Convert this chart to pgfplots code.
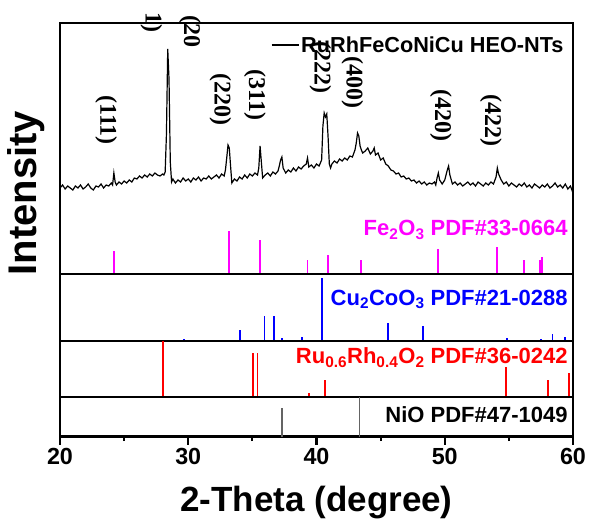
\documentclass[border=0pt]{standalone}
\usepackage{pgfplots}
\pgfplotsset{compat=1.18}
\usepackage{fontspec}
\setmainfont{Liberation Sans}
\newfontfamily\serifb{Liberation Serif}
\definecolor{mag}{RGB}{255,0,255}
\definecolor{blu}{RGB}{0,0,255}
\definecolor{rd}{RGB}{255,0,0}
\definecolor{gry}{RGB}{100,100,100}
\pgfplotsset{
 panel/.style={
  scale only axis, width=513pt, xmin=20, xmax=60, ymin=0,
  anchor=north west, ytick=\empty, xtick=\empty,
  axis line style={line width=2.4pt},
  clip mode=individual,
 },
}
\newcommand{\lab}{\fontsize{22}{26}\selectfont\bfseries}
\newcommand{\mil}{\serifb\fontsize{24}{28}\selectfont\bfseries}
\begin{document}
\begin{tikzpicture}[x=1pt,y=1pt]
\path (0,0) rectangle (590,-519);
% ---------- main panel ----------
\begin{axis}[panel, name=main, at={(60pt,-23pt)}, height=251pt, ymax=251,
  legend style={draw=none, fill=none, at={(axis description cs:0.405,0.912)}, anchor=west,
    font=\fontsize{21.7}{26}\selectfont\bfseries},
  legend image code/.code={\draw[#1] (0pt,0pt) -- (27pt,0pt);}]
\addplot[black, line width=1.2pt] coordinates {
(20.0,86)(20.2,89)(20.4,85)(20.6,88)(20.8,86)(21.0,84)(21.2,88)(21.4,86)(21.6,89)(21.8,85)
(22.0,87)(22.2,90)(22.4,86)(22.6,84)(22.8,88)(23.0,87)(23.2,90)(23.4,86)(23.6,89)(23.8,88)
(24.0,91)(24.1,89)(24.2,101)(24.3,92)(24.4,89)(24.6,92)(24.8,90)(25.0,93)(25.2,91)(25.4,94)
(25.6,92)(25.8,96)(26.0,95)(26.2,98)(26.4,96)(26.6,99)(26.8,97)(27.0,100)(27.2,98)(27.4,101)
(27.6,99)(27.8,98)(28.0,100)(28.1,99)(28.2,102)(28.3,140)(28.4,225)(28.5,195)(28.6,112)(28.7,92)
(28.8,95)(29.0,91)(29.2,94)(29.4,92)(29.6,96)(29.8,93)(30.0,95)(30.2,92)(30.4,96)(30.6,94)
(30.8,97)(31.0,93)(31.2,96)(31.4,95)(31.6,98)(31.8,95)(32.0,97)(32.2,99)(32.4,96)(32.6,100)
(32.8,98)(32.9,104)(33.0,116)(33.1,129)(33.2,126)(33.3,108)(33.4,91)(33.6,95)(33.8,93)(34.0,97)
(34.2,95)(34.4,99)(34.6,96)(34.8,100)(35.0,98)(35.2,101)(35.4,99)(35.5,106)(35.6,128)(35.7,112)
(35.8,96)(36.0,99)(36.2,101)(36.4,98)(36.6,102)(36.8,100)(37.0,103)(37.1,108)(37.2,114)(37.3,117)
(37.4,106)(37.6,101)(37.8,104)(38.0,102)(38.2,106)(38.4,103)(38.6,107)(38.8,105)(39.0,108)(39.2,110)
(39.3,116)(39.4,107)(39.6,109)(39.8,106)(40.0,110)(40.2,108)(40.4,114)(40.5,148)(40.6,161)(40.7,157)
(40.8,160)(40.9,138)(41.0,110)(41.1,106)(41.2,110)(41.4,113)(41.6,111)(41.8,115)(42.0,113)(42.2,116)
(42.4,114)(42.6,118)(42.8,117)(43.0,124)(43.1,131)(43.2,141)(43.3,138)(43.4,128)(43.5,124)(43.6,121)
(43.8,123)(44.0,126)(44.2,120)(44.4,123)(44.5,126)(44.6,119)(44.8,121)(45.0,114)(45.2,116)(45.4,110)
(45.6,108)(45.8,104)(46.0,103)(46.2,100)(46.4,101)(46.6,97)(46.8,98)(47.0,95)(47.2,96)(47.4,93)
(47.6,94)(47.8,91)(48.0,93)(48.2,90)(48.4,92)(48.6,89)(48.8,91)(49.0,90)(49.2,92)(49.3,89)
(49.4,96)(49.5,101)(49.6,94)(49.8,90)(50.0,94)(50.1,99)(50.2,104)(50.3,108)(50.4,99)(50.6,90)
(50.8,92)(51.0,89)(51.2,91)(51.4,88)(51.6,90)(51.8,92)(52.0,89)(52.2,91)(52.4,88)(52.6,92)
(52.8,90)(53.0,88)(53.2,91)(53.4,89)(53.6,92)(53.8,90)(54.0,97)(54.1,106)(54.2,100)(54.4,94)
(54.6,90)(54.8,92)(55.0,88)(55.2,91)(55.4,89)(55.6,87)(55.8,90)(56.0,88)(56.2,91)(56.4,87)
(56.6,89)(56.8,86)(57.0,90)(57.2,88)(57.4,86)(57.6,89)(57.8,87)(58.0,90)(58.2,86)(58.4,88)
(58.6,91)(58.8,87)(59.0,89)(59.2,86)(59.4,90)(59.6,85)(59.8,88)(60.0,81)
};
\addlegendentry{RuRhFeCoNiCu HEO-NTs}
\addplot[mag, ycomb, line width=1.8pt, forget plot] coordinates {
(24.2,22.7)(33.2,42.7)(35.6,33.7)(39.3,14.3)(40.9,19.3)(43.5,14.3)(49.5,25.3)(54.1,26.7)(56.2,13.7)(57.4,14.3)(57.6,16.7)};
\node[mag, anchor=base east, inner sep=0pt] at (axis cs:59.6,38.3) {\lab Fe\textsubscript{2}O\textsubscript{3} PDF\#33-0664};
\node[rotate=-90, inner sep=0pt] at (axis cs:23.6,154) {\mil (111)};
\node[rotate=-90, inner sep=0pt] at (axis cs:32.5,175) {\mil (220)};
\node[rotate=-90, inner sep=0pt] at (axis cs:35.2,179) {\mil (311)};
\node[rotate=-90, inner sep=0pt] at (axis cs:40.3,206.5) {\mil (222)};
\node[rotate=-90, inner sep=0pt] at (axis cs:42.8,192) {\mil (400)};
\node[rotate=-90, inner sep=0pt] at (axis cs:49.7,159) {\mil (420)};
\node[rotate=-90, inner sep=0pt] at (axis cs:53.6,154) {\mil (422)};
\node[rotate=-90, inner sep=0pt, anchor=west] at (axis cs:30.13,259) {\mil (20};
\node[rotate=-90, inner sep=0pt, anchor=east] at (axis cs:27.13,241) {\mil 1)};
\end{axis}
% ---------- Cu2CoO3 ----------
\begin{axis}[panel, at={(60pt,-274pt)}, height=67pt, ymax=67]
\addplot[blu, ycomb, line width=1.8pt] coordinates {
(24.2,1)(29.65,2.3)(34.05,10.7)(35.95,24.7)(36.7,24.7)(37.3,3.3)(38.85,4.3)(40.4,62.7)(45.6,18)(48.3,15)(54.85,3.3)(57.5,2.3)(58.4,6.7)(59.35,4.3)};
\node[blu, anchor=base east, inner sep=0pt] at (axis cs:59.6,36) {\lab Cu\textsubscript{2}CoO\textsubscript{3} PDF\#21-0288};
\end{axis}
% ---------- Ru0.6Rh0.4O2 ----------
\begin{axis}[panel, at={(60pt,-341pt)}, height=56pt, ymax=56]
\addplot[rd, ycomb, line width=1.8pt] coordinates {
(28.05,56)(35.05,44)(35.4,44)(39.4,4.2)(40.65,17)(54.8,30)(58.05,17)(59.7,24)};
\node[rd, anchor=base east, inner sep=0pt] at (axis cs:59.6,33.5) {\lab Ru\textsubscript{0.6}Rh\textsubscript{0.4}O\textsubscript{2} PDF\#36-0242};
\end{axis}
% ---------- NiO ----------
\begin{axis}[panel, at={(60pt,-397pt)}, height=39.5pt, ymax=39.5,
  xtick={20,30,40,50,60}, minor xtick={25,35,45,55},
  xtick pos=lower, tick align=outside,
  major tick length=8pt, minor tick length=4.5pt,
  major tick style={line width=2.2pt, black}, minor tick style={line width=2.2pt, black},
  /pgf/number format/assume math mode=true,
  xticklabel style={font=\fontsize{23.3}{28}\selectfont\bfseries}]
\addplot[gry, ycomb, line width=1.8pt] coordinates {(37.28,28.5)(43.35,39.5)};
\node[black, anchor=base east, inner sep=0pt] at (axis cs:59.6,14.5) {\lab NiO PDF\#47-1049};
\end{axis}
\draw[line width=2.4pt, line cap=rect] (main.north west) -- (main.north east);
\node[anchor=base, inner sep=0pt] at (316.5,-511.7) {\fontsize{35}{40}\selectfont\bfseries 2-Theta (degree)};
\node[rotate=90, inner sep=0pt] at (26.5,-193) {\fontsize{40}{46}\selectfont\bfseries Intensity};
\end{tikzpicture}
\end{document}
